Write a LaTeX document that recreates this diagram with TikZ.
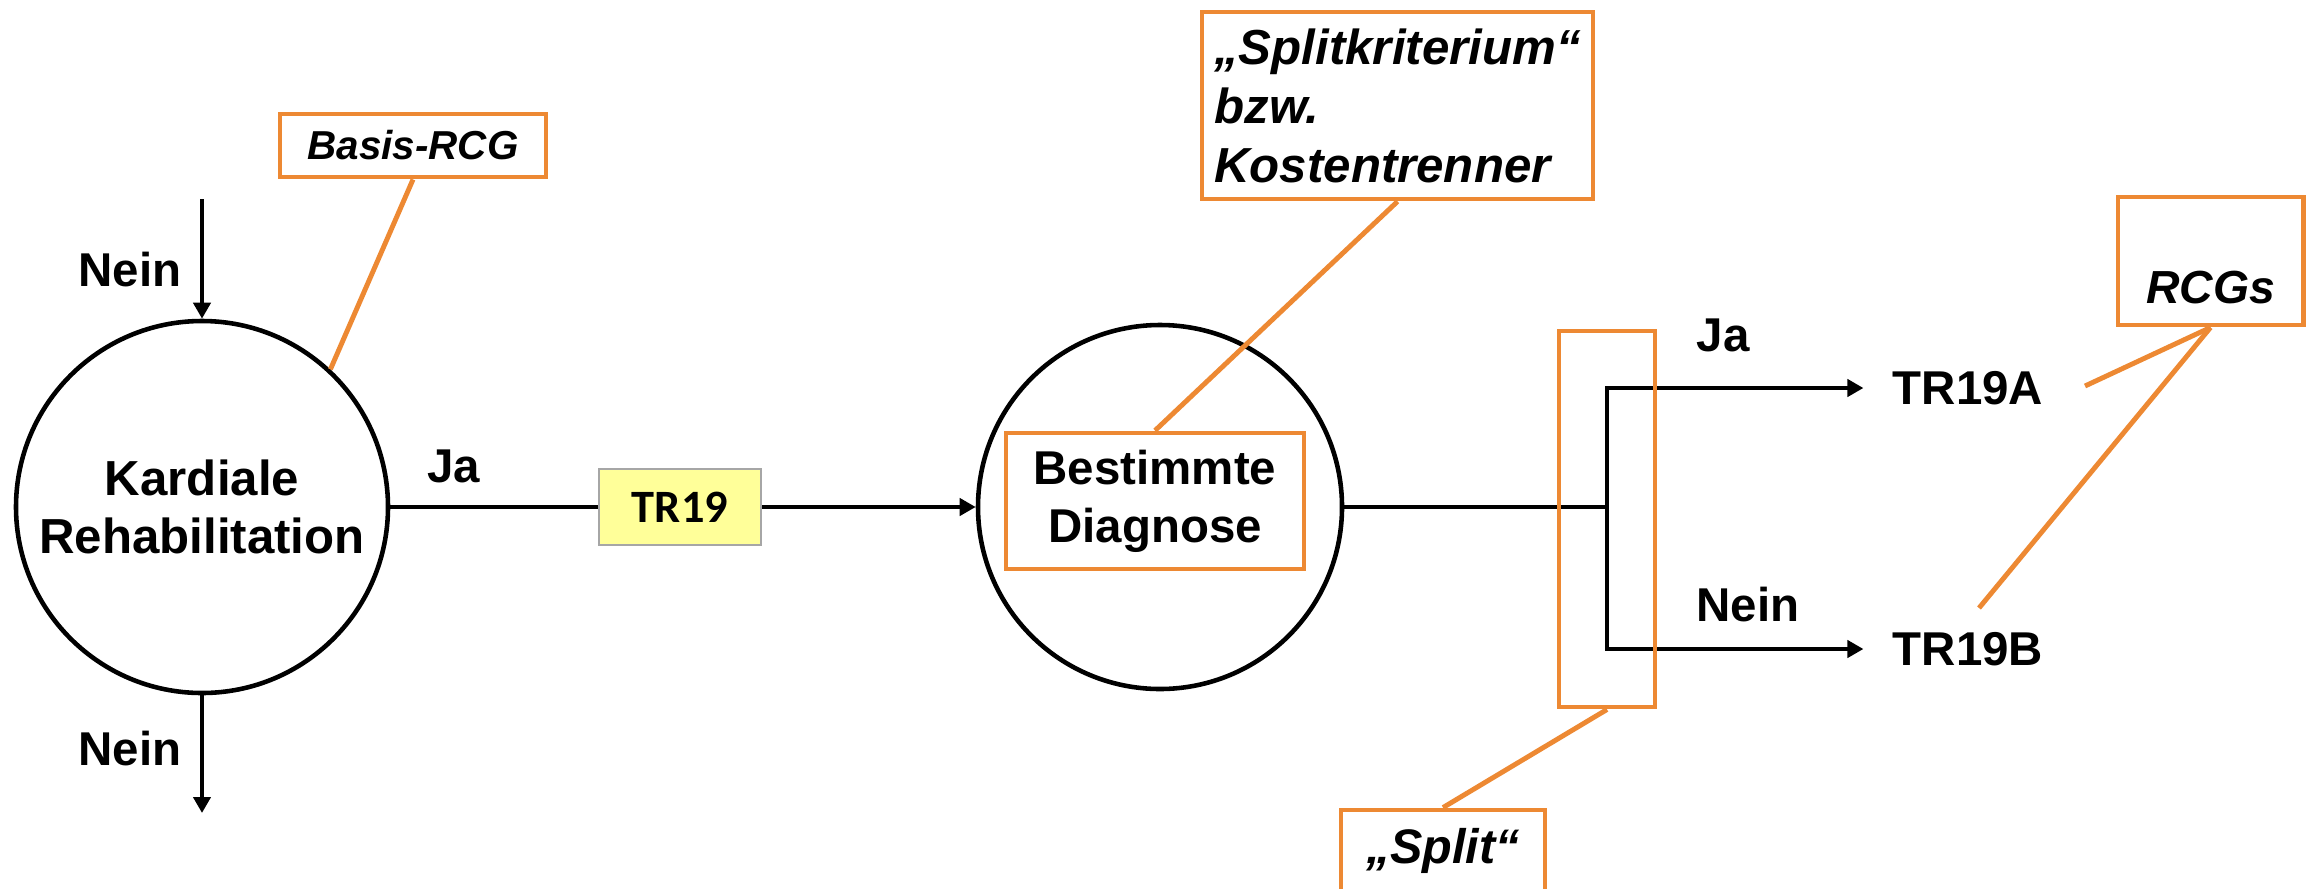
\documentclass[tikz,border=0pt]{standalone}
\usepackage{fontspec}
\setmainfont{Liberation Sans}
\newfontfamily\calibrifont{Carlito}
\usetikzlibrary{arrows.meta}
\definecolor{rcgorange}{RGB}{237,137,51}
\definecolor{tryellow}{RGB}{255,255,153}
\definecolor{trgray}{RGB}{166,166,166}

\begin{document}
\begin{tikzpicture}[
		txt/.style={font=\bfseries\fontsize{13.5}{16.5}\selectfont},
		bubble/.style={draw, circle, line width=1.3pt, inner sep=0pt, align=center,
			font=\bfseries\fontsize{14}{16.5}\selectfont},
		note/.style={draw=rcgorange, line width=1.4pt, inner sep=0pt,
			font=\bfseries\itshape\fontsize{13.8}{16.8}\selectfont},
		flow/.style={line width=1.3pt, -{Triangle[length=1.6mm,width=1.7mm]}},
		link/.style={draw=rcgorange, line width=1.4pt}
	]
		\useasboundingbox (0,0) rectangle (23.13,8.88);
		% Circles
		\node[bubble, minimum size=3.72cm] (kard) at (2.02,3.81) {Kardiale\\Rehabilitation};
		\node[bubble, minimum size=3.64cm] (bd) at (11.60,3.81) {};
		% Box inside second circle
		\node[note, font=\bfseries\fontsize{13.5}{16.5}\selectfont, align=center,
			minimum width=2.98cm, minimum height=1.36cm] (diag) at (11.55,3.87) {Bestimmte\\Diagnose};
		% TR19
		\node[draw=trgray, fill=tryellow, line width=0.6pt, minimum width=1.62cm, minimum height=0.76cm,
			font=\calibrifont\bfseries\fontsize{13.2}{16}\selectfont] (tr19) at (6.80,3.81) {TR19};
		% Incoming / outgoing Nein
		\coordinate (ntop) at (2.02,6.89);
		\coordinate (nbot) at (2.02,0.75);
		\draw[flow] (ntop) -- (kard.north);
		\draw[flow] (kard.south) -- (nbot);
		\node[txt] (neintop) at (1.30,6.18) {Nein};
		\node[txt] (neinbot) at (1.30,1.39) {Nein};
		% Ja path
		\draw[line width=1.3pt] (kard.east) -- (tr19.west);
		\draw[flow] (tr19.east) -- (bd.west);
		\node[txt] (jaleft) at (4.54,4.22) {Ja};
		% Split
		\coordinate (fork) at (16.07,3.81);
		\node[txt] (tra) at (19.68,5.00) {TR19A};
		\node[txt] (trb) at (19.68,2.39) {TR19B};
		\draw[line width=1.3pt] (bd.east) -- (fork);
		\draw[flow] (fork) |- ([xshift=-1.7mm]tra.west);
		\draw[flow] (fork) |- ([xshift=-1.7mm]trb.west);
		\node[txt] (jaright) at (17.23,5.53) {Ja};
		\node[txt] (neinright) at (17.48,2.83) {Nein};
		\node[note, minimum width=0.96cm, minimum height=3.76cm] (split) at (16.07,3.69) {};
		% Notes
		\node[note, font=\bfseries\itshape\fontsize{11.5}{14}\selectfont,
			minimum width=2.66cm, minimum height=0.63cm] (basis) at (4.13,7.425) {Basis-RCG};
		\node[note, align=left, minimum width=3.91cm, minimum height=1.87cm,
			font=\bfseries\itshape\fontsize{14}{16.8}\selectfont] (krit) at (13.975,7.825)
			{„Splitkriterium“\\bzw.\\Kostentrenner};
		\node[note, minimum width=2.04cm, minimum height=0.82cm] (splitnote) at (14.43,0.37) {„Split“};
		\node[note, minimum width=1.85cm, minimum height=1.28cm,
			label={[yshift=-0.27cm, font=\bfseries\itshape\fontsize{13.2}{16}\selectfont]center:RCGs}] (rcgs) at (22.105,6.27) {};
		% Orange links
		\coordinate (rcga) at (20.85,5.02);
		\coordinate (rcgb) at (19.79,2.80);
		\draw[link] (basis.south) -- (kard.47);
		\draw[link] (krit.south) -- (diag.north);
		\draw[link] (split.south) -- (splitnote.north);
		\draw[link] (rcgs.south) -- (rcga);
		\draw[link] (rcgs.south) -- (rcgb);
	\end{tikzpicture}
\end{document}
